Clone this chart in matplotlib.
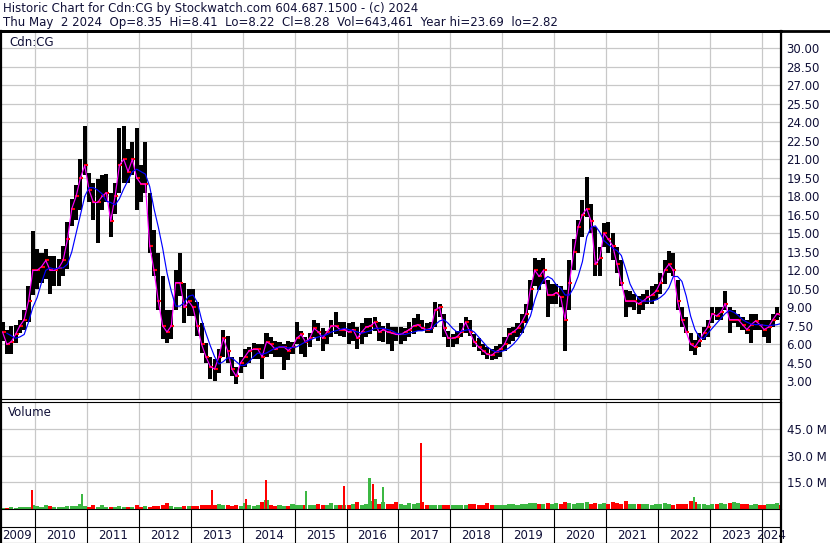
import numpy as np
import pandas as pd
import matplotlib
matplotlib.use('Agg')
import matplotlib.pyplot as plt
from matplotlib.lines import Line2D

plt.rcParams['font.family'] = ['DejaVu Sans']

# === Datos mensuales (may-2009 .. may-2024) ===
months = pd.period_range('2009-05', '2024-05', freq='M')

highs = (
    [7.8, 7.2, 7.5, 7.6, 8.0, 8.8, 10.7, 15.2]
    + [13.7, 13.4, 13.7, 13.2, 13.2, 12.9, 14.0, 15.9, 17.8, 18.9, 21.0, 23.7]
    + [19.9, 19.1, 19.4, 19.7, 19.8, 18.3, 19.1, 23.5, 23.7, 21.8, 22.4, 23.5]
    + [20.5, 22.4, 18.3, 15.3, 13.4, 11.5, 8.8, 8.8, 12.0, 13.4, 11.0, 10.5]
    + [10.5, 9.4, 7.75, 6.1, 5.0, 4.8, 5.6, 7.2, 6.7, 5.0, 4.2, 5.0]
    + [5.6, 5.8, 6.1, 6.0, 6.0, 6.9, 6.6, 6.3, 6.2, 6.05, 6.3, 6.2]
    + [7.8, 7.1, 6.6, 6.9, 8.0, 7.7, 7.3, 7.1, 8.0, 8.6, 7.8, 7.8]
    + [7.7, 7.8, 7.4, 7.7, 8.1, 8.1, 8.2, 7.8, 7.5, 7.7, 7.4, 7.4]
    + [7.4, 7.3, 7.8, 8.1, 8.5, 8.0, 7.7, 7.8, 9.4, 9.3, 8.5, 7.1]
    + [6.86, 7.1, 7.7, 8.2, 8.0, 6.86, 6.5, 6.05, 5.8, 5.6, 5.9, 6.05]
    + [6.6, 7.3, 7.4, 7.7, 8.5, 9.3, 11.2, 13.0, 12.8, 13.0, 11.2, 10.9]
    + [10.9, 10.7, 10.4, 12.8, 14.5, 16.1, 17.7, 19.6, 17.4, 15.5, 13.9, 15.8]
    + [15.9, 15.0, 13.9, 12.8, 10.4, 10.3, 10.1, 9.9, 10.1, 10.4, 10.7, 10.9]
    + [11.75, 12.8, 13.6, 13.4, 11.2, 9.05, 8.2, 6.9, 6.35, 6.9, 7.4, 8.0]
    + [9.05, 9.05, 9.05, 10.3, 9.05, 8.8, 8.5, 8.2, 8.0, 8.5, 8.5, 8.0]
    + [8.0, 8.0, 8.5, 9.05, 8.41]
)

lows = (
    [6.3, 5.2, 5.2, 6.1, 6.9, 7.2, 7.8, 10.0]
    + [10.5, 11.0, 11.3, 10.1, 10.7, 10.7, 11.5, 12.1, 15.6, 16.1, 16.9, 19.7]
    + [17.5, 16.1, 14.25, 16.9, 17.5, 14.7, 16.6, 18.3, 19.1, 19.1, 19.7, 16.9]
    + [17.5, 18.3, 13.4, 11.5, 8.8, 6.4, 6.1, 6.4, 8.8, 9.9, 7.75, 8.3]
    + [8.3, 6.7, 5.3, 4.5, 3.2, 3.0, 3.7, 5.0, 4.5, 3.4, 2.82, 3.7]
    + [4.2, 4.5, 4.8, 4.8, 3.2, 5.0, 5.2, 5.0, 5.0, 3.9, 4.7, 5.2]
    + [6.05, 5.2, 5.0, 5.8, 6.6, 6.3, 5.5, 6.05, 6.6, 6.86, 6.7, 6.6]
    + [6.05, 6.3, 5.6, 6.05, 6.6, 6.86, 7.1, 6.3, 6.2, 6.05, 5.5, 6.3]
    + [6.05, 6.3, 6.6, 6.86, 7.1, 7.1, 6.9, 6.9, 7.4, 8.2, 6.6, 5.8]
    + [5.8, 6.05, 6.6, 6.9, 6.7, 5.8, 5.5, 5.1, 4.8, 4.7, 4.8, 5.0]
    + [5.5, 6.05, 6.3, 6.6, 6.9, 7.7, 8.8, 10.7, 10.4, 10.9, 8.2, 9.3]
    + [9.3, 9.05, 5.5, 8.8, 12.0, 13.4, 14.7, 16.35, 15.0, 11.5, 11.5, 13.9]
    + [13.4, 12.8, 11.75, 10.7, 8.2, 9.05, 8.8, 8.5, 8.8, 9.3, 9.3, 9.6]
    + [10.1, 10.9, 11.75, 11.5, 8.8, 7.4, 6.9, 5.5, 5.1, 5.8, 6.35, 6.6]
    + [7.7, 8.0, 8.0, 8.8, 6.9, 7.7, 7.4, 7.2, 6.8, 6.1, 7.2, 7.2]
    + [6.6, 6.1, 7.4, 8.0, 8.22]
)

closes = (
    [7.0, 6.0, 6.2, 6.8, 7.5, 8.0, 9.5, 12.0]
    + [12.0, 12.3, 12.8, 12.0, 12.0, 12.2, 12.8, 14.5, 17.0, 18.0, 19.5, 20.5]
    + [18.5, 17.5, 17.5, 18.0, 18.3, 16.0, 18.0, 20.5, 21.0, 20.0, 21.0, 19.5]
    + [19.0, 19.0, 14.0, 12.0, 9.5, 7.5, 7.0, 7.5, 11.0, 11.0, 9.0, 9.5]
    + [9.0, 7.5, 6.0, 5.0, 4.2, 4.0, 5.0, 6.5, 5.5, 4.0, 3.4, 4.5]
    + [5.0, 5.5, 5.6, 5.6, 5.0, 6.2, 6.0, 5.6, 5.8, 5.8, 5.5, 5.8]
    + [6.5, 6.8, 6.2, 6.5, 7.3, 7.0, 6.5, 7.0, 7.5, 7.5, 7.2, 7.2]
    + [7.0, 7.2, 6.5, 7.0, 7.4, 7.5, 7.8, 7.0, 7.2, 7.0, 6.9, 6.8]
    + [6.8, 7.0, 7.2, 7.5, 7.6, 7.3, 7.2, 7.3, 8.8, 9.0, 7.3, 6.5]
    + [6.5, 6.6, 7.0, 7.8, 7.0, 6.2, 5.8, 5.5, 5.2, 5.1, 5.4, 5.6]
    + [6.0, 6.8, 7.0, 7.3, 7.8, 8.5, 10.5, 12.0, 11.5, 12.0, 10.0, 10.0]
    + [10.2, 9.8, 8.0, 11.0, 13.5, 15.5, 16.5, 17.0, 16.0, 12.5, 13.0, 15.0]
    + [14.5, 14.0, 12.5, 11.0, 9.5, 9.5, 9.5, 9.3, 9.5, 9.8, 10.0, 10.3]
    + [11.0, 12.0, 12.5, 12.0, 9.5, 8.0, 7.0, 6.0, 5.8, 6.3, 6.9, 7.4]
    + [8.5, 8.3, 8.6, 9.3, 8.0, 8.0, 8.0, 7.6, 7.2, 7.6, 7.9, 7.6]
    + [7.2, 7.4, 8.0, 8.5, 8.28]
)

# media movil larga (linea azul)
ma_long = (
    [np.nan, 6.9, 6.7, 6.5, 6.6, 6.8, 7.8, 9.0]
    + [9.8, 11.0, 12.0, 12.2, 12.1, 12.2, 12.2, 12.5, 13.5, 15.0, 16.5, 18.0]
    + [18.7, 18.7, 18.5, 18.2, 17.6, 17.5, 17.3, 17.8, 18.6, 19.3, 20.0, 20.2]
    + [20.0, 19.8, 18.8, 17.0, 15.5, 13.8, 11.8, 10.3, 9.1, 9.1, 9.4, 9.9]
    + [10.0, 9.4, 8.0, 6.9, 5.9, 5.0, 4.4, 4.6, 4.9, 4.9, 4.6, 4.3]
    + [4.3, 4.6, 5.0, 5.3, 5.2, 5.3, 5.5, 5.7, 5.8, 5.8, 5.7, 5.75]
    + [5.8, 6.0, 6.2, 6.35, 6.5, 6.6, 6.7, 6.8, 7.0, 7.1, 7.2, 7.3]
    + [7.2, 7.1, 7.0, 6.9, 7.0, 7.1, 7.3, 7.3, 7.3, 7.2, 7.1, 6.9]
    + [6.85, 6.8, 6.9, 7.0, 7.1, 7.1, 7.2, 7.2, 7.6, 7.9, 8.0, 7.7]
    + [7.3, 7.0, 7.05, 7.15, 7.2, 7.0, 6.6, 6.2, 5.8, 5.55, 5.4, 5.4]
    + [5.5, 5.7, 6.0, 6.4, 6.9, 7.6, 8.3, 9.6, 10.6, 11.2, 11.5, 11.3]
    + [10.8, 10.55, 10.0, 10.0, 10.6, 11.5, 12.7, 14.7, 15.5, 15.6, 15.1, 14.4]
    + [14.1, 13.8, 13.6, 13.2, 12.1, 10.9, 10.2, 9.7, 9.5, 9.5, 9.5, 9.6]
    + [9.8, 10.1, 10.6, 11.5, 11.5, 11.1, 9.9, 8.3, 7.2, 6.6, 6.45, 6.9]
    + [7.3, 7.7, 8.1, 8.5, 8.75, 8.6, 8.35, 8.0, 7.8, 7.65, 7.6, 7.6]
    + [7.55, 7.5, 7.55, 7.6, 7.7]
)

# volumen diario tipico por mes (millones)
vol_base = (
    [0.8, 0.7, 0.9, 0.8, 1.0, 0.9, 1.2, 2.5]
    + [1.5, 1.2, 2.5, 1.8, 1.3, 1.0, 1.2, 1.5, 1.8, 1.6, 3.0, 1.5]
    + [1.2, 2.5, 1.3, 2.0, 1.2, 1.0, 1.1, 1.5, 1.3, 1.0, 1.2, 2.5]
    + [1.3, 1.5, 1.2, 1.8, 1.5, 2.0, 3.5, 1.5, 1.3, 1.2, 1.5, 1.8]
    + [1.5, 1.8, 2.0, 2.5, 2.0, 2.2, 2.8, 2.5, 2.0, 1.8, 2.0, 1.8]
    + [3.5, 2.0, 1.8, 2.2, 4.0, 5.0, 2.0, 1.8, 2.0, 1.5, 1.8, 3.0]
    + [2.0, 2.2, 2.5, 2.0, 2.2, 3.0, 2.0, 2.5, 3.5, 2.2, 2.0, 2.5]
    + [2.5, 2.8, 4.0, 2.5, 3.0, 4.5, 5.5, 3.0, 4.0, 3.0, 2.8, 4.0]
    + [3.0, 2.5, 3.5, 2.8, 3.5, 4.0, 2.5, 2.2, 2.0, 2.5, 2.2, 2.0]
    + [2.2, 2.0, 2.5, 2.2, 2.8, 3.0, 2.5, 2.0, 3.5, 2.2, 2.5, 2.5]
    + [2.5, 2.8, 3.0, 2.5, 2.8, 3.0, 3.2, 3.5, 2.8, 3.0, 3.2, 2.8]
    + [3.5, 3.0, 4.0, 3.5, 3.0, 3.5, 3.2, 3.8, 3.0, 3.5, 3.0, 3.2]
    + [3.0, 4.0, 3.5, 3.0, 4.5, 3.0, 2.8, 3.0, 2.8, 3.0, 2.5, 2.8]
    + [2.8, 3.5, 3.0, 2.5, 3.0, 2.8, 3.0, 4.5, 4.0, 3.0, 2.8, 2.5]
    + [2.8, 3.0, 3.5, 3.0, 3.2, 4.0, 3.5, 3.0, 2.8, 2.5, 2.8, 2.5]
    + [2.5, 2.8, 3.0, 3.2, 2.5]
)

# dias con volumen excepcional (fecha en anio decimal, millones)
spike_dates = [2009.94, 2010.905, 2013.40, 2014.055, 2014.454, 2015.219, 2015.95,
               2016.441, 2016.513, 2016.696, 2017.441, 2022.69]
spike_vols = [10.5, 8.5, 10.5, 5.5, 16.5, 10.0, 13.0, 17.5, 14.0, 12.5, 37.0, 7.0]
spike_up = [False, True, False, False, False, True, False, True, False, True, False, True]

years = list(range(2009, 2025))
header1 = 'Historic Chart for Cdn:CG by Stockwatch.com 604.687.1500 - (c) 2024'
header2 = 'Thu May  2 2024  Op=8.35  Hi=8.41  Lo=8.22  Cl=8.28  Vol=643,461  Year hi=23.69  lo=2.82'

# === Layout en pixeles ===
W, H = 830, 543
x_right = 781
xmin, xmax = 2009.326, 2024.366
txt_color = '#101038'
grid_color = '#c8c8c8'
red = '#ff0000'
green = '#3cb843'
fs = 8.5

x = np.array([p.year + (p.month - 0.5) / 12 for p in months])
highs = np.array(highs)
lows = np.array(lows)
closes = np.array(closes)

fig = plt.figure(figsize=(W / 100, H / 100), dpi=100)
fig.patch.set_facecolor('white')


def px_axes(x0, y0, x1, y1):
    return fig.add_axes([x0 / W, 1 - y1 / H, (x1 - x0) / W, (y1 - y0) / H])


ax_p = px_axes(0, 31, x_right, 399)
ax_v = px_axes(0, 402, x_right, 509)
ax_d = px_axes(0, 509, x_right, 543)

for ax in (ax_p, ax_v):
    ax.set_xlim(xmin, xmax)
    ax.set_xticks(years[1:])
    ax.tick_params(axis='x', length=0, labelbottom=False)
    ax.yaxis.tick_right()
    ax.tick_params(axis='y', length=0, pad=4, labelsize=fs, labelcolor=txt_color)
    ax.grid(True, color=grid_color, lw=0.9)
    ax.set_axisbelow(True)
    for s in ax.spines.values():
        s.set_color('black')
        s.set_linewidth(0.8)

# --- Precio ---
ax_p.set_ylim(1.57, 31.4)
ax_p.set_yticks(np.arange(3, 30.01, 1.5))
ax_p.set_yticklabels([f'{v:.2f}' for v in np.arange(3, 30.01, 1.5)])
ax_p.spines['top'].set_linewidth(2)

ax_p.bar(x, highs - lows, bottom=lows, width=0.078, color='black', linewidth=0)
ax_p.plot(x + 0.02, closes, ls='none', marker='_', ms=3, mew=1.5, color=red)
ax_p.plot(x, closes, color='#ff00ff', lw=0.85)
ax_p.plot(x, ma_long, color='#0000ff', lw=0.85)
ax_p.text(9 / x_right, 1 - 11 / 368, 'Cdn:CG', transform=ax_p.transAxes,
          fontsize=fs, color=txt_color, va='center', ha='left')

# --- Volumen ---
ax_v.set_ylim(0, 60.2)
ax_v.set_yticks([15, 30, 45])
ax_v.set_yticklabels(['15.0 M', '30.0 M', '45.0 M'])
prev = np.concatenate([[closes[0]], closes[:-1]])
vcolors = [green if c >= p else red for c, p in zip(closes, prev)]
ax_v.bar(x, vol_base, width=0.078, color=vcolors, linewidth=0)
ax_v.bar(spike_dates, spike_vols, width=0.04,
         color=[green if u else red for u in spike_up], linewidth=0)
ax_v.text(8 / x_right, 1 - 11 / 107, 'Volume', transform=ax_v.transAxes,
          fontsize=fs, color=txt_color, va='center', ha='left')

# --- Eje de fechas ---
ax_d.set_xlim(xmin, xmax)
ax_d.set_ylim(0, 34)
ax_d.axis('off')
ax_d.axhline(16, color='black', lw=0.8)
ax_d.axhline(0.5, color='black', lw=0.8)
for yr in years[1:]:
    ax_d.axvline(yr, color='black', lw=0.8)
for yr in years:
    lo = max(yr, xmin)
    hi = min(yr + 1, xmax)
    ax_d.text((lo + hi) / 2, 7.5, str(yr), ha='center', va='center',
              fontsize=fs, color=txt_color, clip_on=False)

# --- Encabezado y bordes ---
fig.text(3 / W, 1 - 8.5 / H, header1, fontsize=fs, color=txt_color, va='center')
fig.text(3 / W, 1 - 22.5 / H, header2, fontsize=fs, color=txt_color, va='center')
fig.add_artist(Line2D([0, 1], [1 - 31 / H] * 2, transform=fig.transFigure, color='black', lw=2))
fig.add_artist(Line2D([x_right / W] * 2, [0, 1 - 31 / H], transform=fig.transFigure, color='black', lw=1.6))
fig.add_artist(Line2D([1 / W] * 2, [0, 1 - 31 / H], transform=fig.transFigure, color='black', lw=1.6))

fig.savefig('out.png', dpi=100)
